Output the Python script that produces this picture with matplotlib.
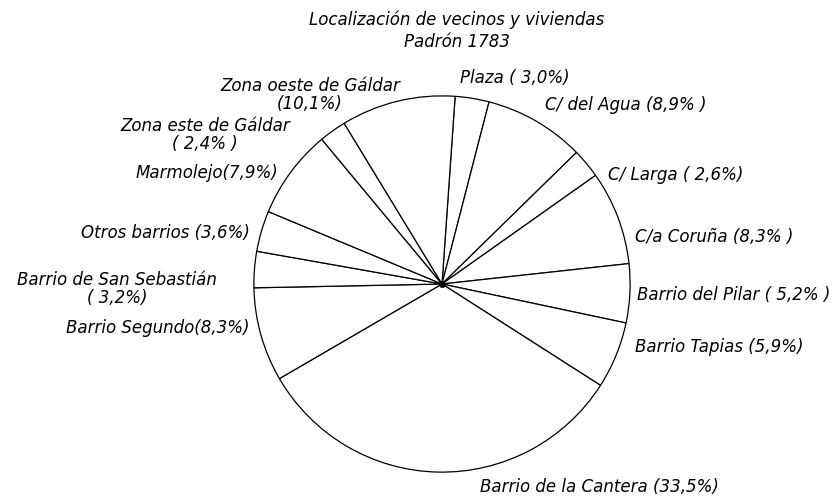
import matplotlib
matplotlib.use("Agg")
import matplotlib.pyplot as plt

# Data (percent of vecinos per zone, Padrón 1783), clockwise from the top
zonas = ["Plaza", "C/ del Agua", "C/ Larga", "C/a Coruña", "Barrio del Pilar",
         "Barrio Tapias", "Barrio de la Cantera", "Barrio Segundo",
         "Barrio de San Sebastián", "Otros barrios", "Marmolejo",
         "Zona este de Gáldar", "Zona oeste de Gáldar"]
porcentajes = [3.0, 8.9, 2.6, 8.3, 5.2, 5.9, 33.5, 8.3, 3.2, 3.6, 7.9, 2.4, 10.1]
etiquetas = ["Plaza ( 3,0%)", "C/ del Agua (8,9% )", "C/ Larga ( 2,6%)",
             "C/a Coruña (8,3% )", "Barrio del Pilar ( 5,2% )",
             "Barrio Tapias (5,9%)", "Barrio de la Cantera (33,5%)",
             "Barrio Segundo(8,3%)", "Barrio de San Sebastián\n( 3,2%)",
             "Otros barrios (3,6%)", "Marmolejo(7,9%)",
             "Zona este de Gáldar\n( 2,4% )", "Zona oeste de Gáldar\n(10,1%)"]

# label placement in pixels (x, y, ha)
pos = [(460, 78, "left"), (545, 105, "left"), (608, 175, "left"),
       (635, 237, "left"), (637, 295, "left"), (635, 347, "left"),
       (480, 487, "left"), (250, 328, "right"), (117, 289, "center"),
       (250, 233, "right"), (278, 173, "right"), (205, 135, "center"),
       (310, 95, "center")]

W, H = 832, 496
fig = plt.figure(figsize=(W / 100, H / 100), dpi=100)
cx, cy, r = 442, 284, 190
ax = fig.add_axes([(cx - r) / W, (H - cy - r) / H, 2 * r / W, 2 * r / H])

ax.pie(porcentajes, startangle=86, counterclock=False, radius=1,
       wedgeprops=dict(facecolor="white", edgecolor="black", linewidth=0.9))
ax.plot(0, 0, "o", color="black", markersize=4)
ax.set_xlim(-1.01, 1.01)
ax.set_ylim(-1.01, 1.01)
ax.axis("off")

for txt, (px, py, ha) in zip(etiquetas, pos):
    fig.text(px / W, 1 - py / H, txt, ha=ha, va="center", fontsize=12,
             style="italic", linespacing=0.95)

fig.text(457 / W, 1 - 31 / H, "Localización de vecinos y viviendas\nPadrón 1783",
         ha="center", va="center", fontsize=12, style="italic", linespacing=1.3)

fig.savefig("out.png", dpi=100, facecolor="white")
